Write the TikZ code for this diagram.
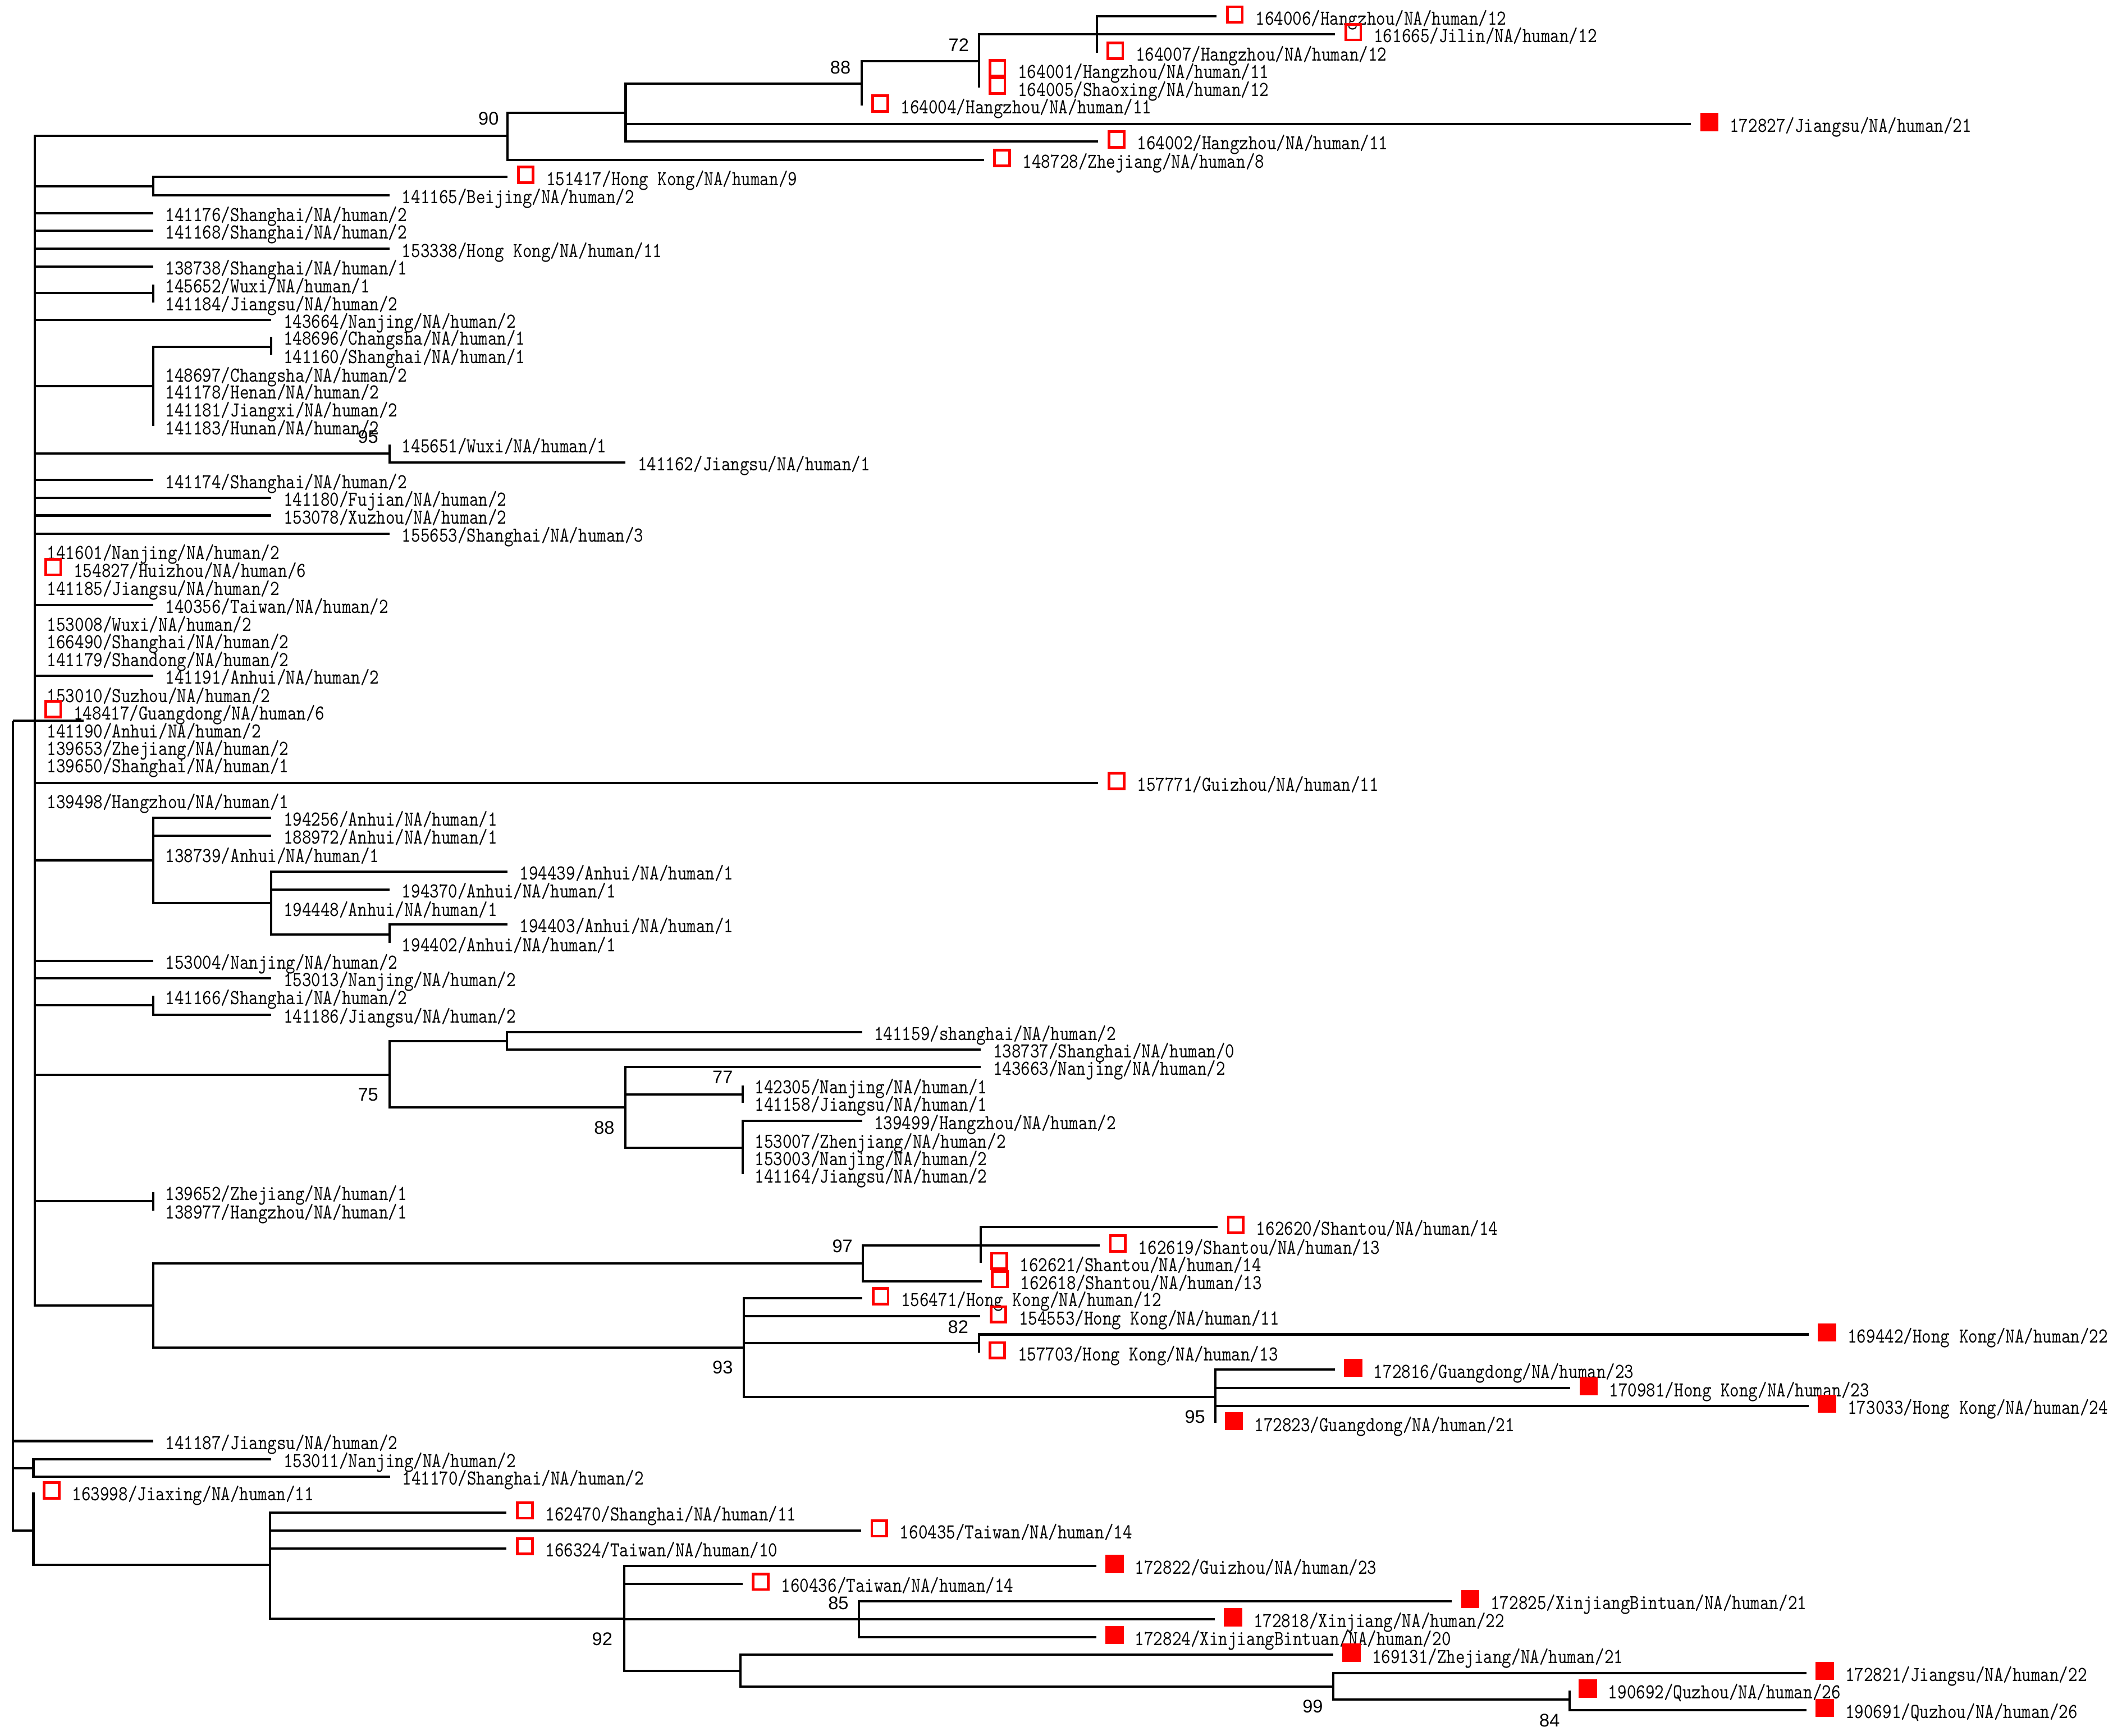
\documentclass[tikz,border=0pt]{standalone}
\usepackage{fontspec}
\newfontfamily\labfont[FakeStretch=0.833]{lmmono10-regular.otf}
\newfontfamily\bsfont{Liberation Sans}
\tikzset{
  br/.style={line width=1.7pt},
  lab/.style={font=\labfont\fontsize{15.7}{16}\selectfont, anchor=base west, inner sep=0pt},
  bsv/.style={font=\bsfont\fontsize{13.5}{14}\selectfont, anchor=center, inner sep=0pt},
  obox/.style={draw=red, line width=2pt, minimum width=11pt, minimum height=11.5pt, inner sep=0pt},
  fbox/.style={fill=red, minimum width=13.5pt, minimum height=13.5pt, inner sep=0pt},
}
\newcommand\tipN[4]{\coordinate (#1) at (#2,#3); \node[lab] (#1l) at ({#2+8.8},{#3+6.1}) {#4};}
\newcommand\tipO[4]{\coordinate (#1) at (#2,#3); \node[obox] (#1m) at ({#2+13.5},{#3-1.5}) {}; \node[lab] (#1l) at ({#2+28.5},{#3+6.1}) {#4};}
\newcommand\tipF[4]{\coordinate (#1) at (#2,#3); \node[fbox] (#1m) at ({#2+13.5},{#3-1.5}) {}; \node[lab] (#1l) at ({#2+28.5},{#3+6.1}) {#4};}
\begin{document}
\begin{tikzpicture}[x=1pt,y=-1pt]
\fill[white] (0,0) rectangle (1568,1283);
\useasboundingbox (0,0) rectangle (1568,1283);
% internal nodes
\coordinate (nr) at (9.6,532.5);
\coordinate (rootcut) at (61.9,532.5);
\coordinate (nin) at (25.8,532.5);
\coordinate (n90) at (375,100.5);
\coordinate (nA) at (462.3,83.4);
\coordinate (n88) at (636.9,61.8);
\coordinate (n72) at (723.5,45.2);
\coordinate (nS1) at (810.6,25.2);
\coordinate (nHK) at (113.2,137.6);
\coordinate (n1) at (113.2,216.7);
\coordinate (n2) at (113.2,285.4);
\coordinate (n2a) at (200.5,256.2);
\coordinate (n95a) at (288,335.2);
\coordinate (nAn) at (113.2,635.7);
\coordinate (nAn2) at (200.5,667.4);
\coordinate (nAn3) at (288,690.5);
\coordinate (nC) at (113.2,743);
\coordinate (n75) at (287.7,794.2);
\coordinate (nU) at (374.6,769.3);
\coordinate (n88b) at (462.2,818.4);
\coordinate (n77) at (548.8,808.9);
\coordinate (n88c) at (548.8,848.3);
\coordinate (nZ) at (113.2,887.7);
\coordinate (nSH) at (113.2,965);
\coordinate (n97) at (637.7,933.8);
\coordinate (nS2) at (724.8,920.6);
\coordinate (n93) at (549.6,996);
\coordinate (n82) at (723.4,992.7);
\coordinate (n95b) at (898.2,1032.3);
\coordinate (nb1) at (24.7,1085.2);
\coordinate (nb2) at (24.7,1131);
\coordinate (nb3) at (199.5,1156.6);
\coordinate (n92) at (461.3,1196.3);
\coordinate (n85) at (634.7,1196.8);
\coordinate (nB) at (547,1234.7);
\coordinate (n99) at (985.2,1246.4);
\coordinate (n84) at (1159.7,1256.2);
% tips
\tipO{t164006}{899}{12.2}{164006/Hangzhou/NA/human/12}
\tipO{t161665}{986.5}{25.2}{161665/Jilin/NA/human/12}
\tipO{t164007}{810.6}{39}{164007/Hangzhou/NA/human/12}
\tipO{t164001}{723.5}{51.8}{164001/Hangzhou/NA/human/11}
\tipO{t164005}{723.5}{64.9}{164005/Shaoxing/NA/human/12}
\tipO{t164004}{636.9}{78.1}{164004/Hangzhou/NA/human/11}
\tipF{t172827}{1249.5}{91.7}{172827/Jiangsu/NA/human/21}
\tipO{t164002}{811.5}{104.5}{164002/Hangzhou/NA/human/11}
\tipO{t148728}{727}{118.2}{148728/Zhejiang/NA/human/8}
\tipO{t151417}{375}{130.8}{151417/Hong Kong/NA/human/9}
\tipN{t141165}{288}{144.3}{141165/Beijing/NA/human/2}
\tipN{t141176}{113.2}{157.5}{141176/Shanghai/NA/human/2}
\tipN{t141168}{113.2}{170.4}{141168/Shanghai/NA/human/2}
\tipN{t153338}{288}{183.9}{153338/Hong Kong/NA/human/11}
\tipN{t138738}{113.2}{196.9}{138738/Shanghai/NA/human/1}
\tipN{t145652}{113.2}{210.4}{145652/Wuxi/NA/human/1}
\tipN{t141184}{113.2}{223.4}{141184/Jiangsu/NA/human/2}
\tipN{t143664}{200.5}{236.3}{143664/Nanjing/NA/human/2}
\tipN{t148696}{200.5}{249}{148696/Changsha/NA/human/1}
\tipN{t141160}{200.5}{262.3}{141160/Shanghai/NA/human/1}
\tipN{t148697}{113.2}{276}{148697/Changsha/NA/human/2}
\tipN{t141178}{113.2}{288.7}{141178/Henan/NA/human/2}
\tipN{t141181}{113.2}{301.7}{141181/Jiangxi/NA/human/2}
\tipN{t141183}{113.2}{315}{141183/Hunan/NA/human/2}
\tipN{t145651}{288}{328.5}{145651/Wuxi/NA/human/1}
\tipN{t141162}{462.3}{341.9}{141162/Jiangsu/NA/human/1}
\tipN{t141174}{113.2}{354.8}{141174/Shanghai/NA/human/2}
\tipN{t141180}{200.5}{367.8}{141180/Fujian/NA/human/2}
\tipN{t153078}{200.5}{381}{153078/Xuzhou/NA/human/2}
\tipN{t155653}{288}{394.3}{155653/Shanghai/NA/human/3}
\tipN{t141601}{25.8}{407.4}{141601/Nanjing/NA/human/2}
\tipO{t154827}{25.8}{420.5}{154827/Huizhou/NA/human/6}
\tipN{t141185}{25.8}{433.9}{141185/Jiangsu/NA/human/2}
\tipN{t140356}{113.2}{447}{140356/Taiwan/NA/human/2}
\tipN{t153008}{25.8}{460.3}{153008/Wuxi/NA/human/2}
\tipN{t166490}{25.8}{473.4}{166490/Shanghai/NA/human/2}
\tipN{t141179}{25.8}{486.3}{141179/Shandong/NA/human/2}
\tipN{t141191}{113.2}{499.4}{141191/Anhui/NA/human/2}
\tipN{t153010}{25.8}{513.2}{153010/Suzhou/NA/human/2}
\tipO{t148417}{25.8}{525.7}{148417/Guangdong/NA/human/6}
\tipN{t141190}{25.8}{539}{141190/Anhui/NA/human/2}
\tipN{t139653}{25.8}{552}{139653/Zhejiang/NA/human/2}
\tipN{t139650}{25.8}{565}{139650/Shanghai/NA/human/1}
\tipO{t157771}{811.5}{578.6}{157771/Guizhou/NA/human/11}
\tipN{t139498}{25.8}{591.5}{139498/Hangzhou/NA/human/1}
\tipN{t194256}{200.5}{604.4}{194256/Anhui/NA/human/1}
\tipN{t188972}{200.5}{617.6}{188972/Anhui/NA/human/1}
\tipN{t138739}{113.2}{631.1}{138739/Anhui/NA/human/1}
\tipN{t194439}{375}{644.2}{194439/Anhui/NA/human/1}
\tipN{t194370}{288}{657.4}{194370/Anhui/NA/human/1}
\tipN{t194448}{200.5}{670.9}{194448/Anhui/NA/human/1}
\tipN{t194403}{375}{683.2}{194403/Anhui/NA/human/1}
\tipN{t194402}{288}{697}{194402/Anhui/NA/human/1}
\tipN{t153004}{113.2}{710}{153004/Nanjing/NA/human/2}
\tipN{t153013}{200.5}{723.1}{153013/Nanjing/NA/human/2}
\tipN{t141166}{113.2}{736}{141166/Shanghai/NA/human/2}
\tipN{t141186}{200.5}{749.8}{141186/Jiangsu/NA/human/2}
\tipN{t141159}{637}{762.7}{141159/shanghai/NA/human/2}
\tipN{t138737}{724.8}{775.7}{138737/Shanghai/NA/human/0}
\tipN{t143663}{724.8}{788.4}{143663/Nanjing/NA/human/2}
\tipN{t142305}{548.8}{802.2}{142305/Nanjing/NA/human/1}
\tipN{t141158}{548.8}{815.2}{141158/Jiangsu/NA/human/1}
\tipN{t139499}{637}{828.5}{139499/Hangzhou/NA/human/2}
\tipN{t153007}{548.8}{842.5}{153007/Zhenjiang/NA/human/2}
\tipN{t153003}{548.8}{855.3}{153003/Nanjing/NA/human/2}
\tipN{t141164}{548.8}{867.9}{141164/Jiangsu/NA/human/2}
\tipN{t139652}{113.2}{881}{139652/Zhejiang/NA/human/1}
\tipN{t138977}{113.2}{894.7}{138977/Hangzhou/NA/human/1}
\tipO{t162620}{899.6}{906.8}{162620/Shantou/NA/human/14}
\tipO{t162619}{812.5}{920.6}{162619/Shantou/NA/human/13}
\tipO{t162621}{724.8}{933.5}{162621/Shantou/NA/human/14}
\tipO{t162618}{725.3}{946.9}{162618/Shantou/NA/human/13}
\tipO{t156471}{637.2}{959.5}{156471/Hong Kong/NA/human/12}
\tipO{t154553}{724.3}{972.9}{154553/Hong Kong/NA/human/11}
\tipF{t169442}{1336.6}{986.2}{169442/Hong Kong/NA/human/22}
\tipO{t157703}{723.4}{999.5}{157703/Hong Kong/NA/human/13}
\tipF{t172816}{986.3}{1012.3}{172816/Guangdong/NA/human/23}
\tipF{t170981}{1160.4}{1026}{170981/Hong Kong/NA/human/23}
\tipF{t173033}{1336.6}{1039}{173033/Hong Kong/NA/human/24}
\tipF{t172823}{898.2}{1051.7}{172823/Guangdong/NA/human/21}
\tipN{t141187}{113.2}{1065}{141187/Jiangsu/NA/human/2}
\tipN{t153011}{200.5}{1078.4}{153011/Nanjing/NA/human/2}
\tipN{t141170}{288.2}{1091.4}{141170/Shanghai/NA/human/2}
\tipO{t163998}{24.7}{1103}{163998/Jiaxing/NA/human/11}
\tipO{t162470}{374.3}{1117.8}{162470/Shanghai/NA/human/11}
\tipO{t160435}{636.2}{1131.1}{160435/Taiwan/NA/human/14}
\tipO{t166324}{374.3}{1144.3}{166324/Taiwan/NA/human/10}
\tipF{t172822}{810}{1157.3}{172822/Guizhou/NA/human/23}
\tipO{t160436}{548.6}{1170.5}{160436/Taiwan/NA/human/14}
\tipF{t172825}{1072.8}{1183.3}{172825/XinjiangBintuan/NA/human/21}
\tipF{t172818}{897.6}{1196.8}{172818/Xinjiang/NA/human/22}
\tipF{t172824}{810}{1209.9}{172824/XinjiangBintuan/NA/human/20}
\tipF{t169131}{985.2}{1223}{169131/Zhejiang/NA/human/21}
\tipF{t172821}{1334.9}{1236.4}{172821/Jiangsu/NA/human/22}
\tipF{t190692}{1159.7}{1249.5}{190692/Quzhou/NA/human/26}
\tipF{t190691}{1334.9}{1263.8}{190691/Quzhou/NA/human/26}
% branches
\foreach \c in {rootcut,t141187,nb1,nb2} \draw[br] (nr) |- (\c);
\foreach \c in {n90,nHK,t141176,t141168,t153338,t138738,n1,t143664,n2,n95a,t141174,t141180,t153078,t155653,t140356,t141191,t157771,nAn,t153004,t153013,nC,n75,nZ,nSH} \draw[br] (nin) |- (\c);
\foreach \c in {nA,t148728} \draw[br] (n90) |- (\c);
\foreach \c in {n88,t172827,t164002} \draw[br] (nA) |- (\c);
\foreach \c in {n72,t164004} \draw[br] (n88) |- (\c);
\foreach \c in {nS1,t161665,t164001,t164005} \draw[br] (n72) |- (\c);
\foreach \c in {t164006,t164007} \draw[br] (nS1) |- (\c);
\foreach \c in {t151417,t141165} \draw[br] (nHK) |- (\c);
\foreach \c in {t145652,t141184} \draw[br] (n1) |- (\c);
\foreach \c in {n2a,t148697,t141183} \draw[br] (n2) |- (\c);
\foreach \c in {t148696,t141160} \draw[br] (n2a) |- (\c);
\foreach \c in {t145651,t141162} \draw[br] (n95a) |- (\c);
\foreach \c in {t194256,t188972,nAn2} \draw[br] (nAn) |- (\c);
\foreach \c in {t194439,t194370,nAn3} \draw[br] (nAn2) |- (\c);
\foreach \c in {t194403,t194402} \draw[br] (nAn3) |- (\c);
\foreach \c in {t141166,t141186} \draw[br] (nC) |- (\c);
\foreach \c in {nU,n88b} \draw[br] (n75) |- (\c);
\foreach \c in {t141159,t138737} \draw[br] (nU) |- (\c);
\foreach \c in {t143663,n77,n88c} \draw[br] (n88b) |- (\c);
\foreach \c in {t142305,t141158} \draw[br] (n77) |- (\c);
\foreach \c in {t139499,t141164} \draw[br] (n88c) |- (\c);
\foreach \c in {t139652,t138977} \draw[br] (nZ) |- (\c);
\foreach \c in {n97,n93} \draw[br] (nSH) |- (\c);
\foreach \c in {nS2,t162619,t162618} \draw[br] (n97) |- (\c);
\foreach \c in {t162620,t162621} \draw[br] (nS2) |- (\c);
\foreach \c in {t156471,t154553,n82,n95b} \draw[br] (n93) |- (\c);
\foreach \c in {t169442,t157703} \draw[br] (n82) |- (\c);
\foreach \c in {t172816,t170981,t173033,t172823} \draw[br] (n95b) |- (\c);
\foreach \c in {t153011,t141170} \draw[br] (nb1) |- (\c);
\foreach \c in {t163998,nb3} \draw[br] (nb2) |- (\c);
\foreach \c in {t162470,t160435,t166324,n92} \draw[br] (nb3) |- (\c);
\foreach \c in {t172822,t160436,n85,t172818,nB} \draw[br] (n92) |- (\c);
\foreach \c in {t172825,t172824} \draw[br] (n85) |- (\c);
\foreach \c in {t169131,n99} \draw[br] (nB) |- (\c);
\foreach \c in {t172821,n84} \draw[br] (n99) |- (\c);
\foreach \c in {t190692,t190691} \draw[br] (n84) |- (\c);
% bootstrap values
\node[bsv] (b90) at (361,87.8) {90};
\node[bsv] (b88a) at (621,50) {88};
\node[bsv] (b72) at (708.4,33.2) {72};
\node[bsv] (b95a) at (272,323) {95};
\node[bsv] (b75) at (272,809) {75};
\node[bsv] (b88b) at (446.5,833.5) {88};
\node[bsv] (b77) at (534,796) {77};
\node[bsv] (b97) at (622.5,921) {97};
\node[bsv] (b82) at (708,980.6) {82};
\node[bsv] (b93) at (534,1010.8) {93};
\node[bsv] (b95b) at (883,1047) {95};
\node[bsv] (b92) at (445,1211.3) {92};
\node[bsv] (b85) at (619.5,1185) {85};
\node[bsv] (b99) at (970,1261) {99};
\node[bsv] (b84) at (1145,1271.4) {84};
\end{tikzpicture}
\end{document}
